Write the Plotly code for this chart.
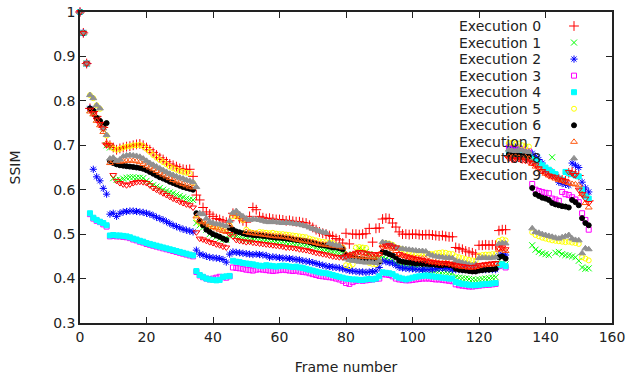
import plotly.graph_objects as go

# ---------------- data (SSIM per frame, frames 0..153) ----------------
exec0 = [1.0, 0.953, 0.884,
         0.783, 0.776, 0.765, 0.752, 0.74, 0.705,
         0.70, 0.695, 0.69, 0.693, 0.695, 0.697, 0.698, 0.70, 0.702, 0.703, 0.70, 0.695, 0.69, 0.684, 0.678, 0.672, 0.668, 0.663, 0.658, 0.655, 0.652, 0.648, 0.646, 0.645, 0.646, 0.63,
         0.588, 0.577, 0.56, 0.55, 0.545, 0.54, 0.535, 0.533, 0.53, 0.527, 0.53,
         0.547, 0.545, 0.535, 0.53, 0.527, 0.54, 0.56, 0.555, 0.54, 0.537, 0.535, 0.536, 0.534, 0.533, 0.533, 0.532, 0.53, 0.531, 0.529, 0.528, 0.528, 0.526, 0.525, 0.52, 0.515, 0.51, 0.505, 0.502, 0.5, 0.497, 0.495, 0.49, 0.487,
         0.48, 0.502, 0.478, 0.5, 0.5, 0.499, 0.5, 0.501, 0.513, 0.482, 0.513, 0.514, 0.534, 0.536, 0.535, 0.525, 0.516, 0.505, 0.5, 0.5, 0.499, 0.5, 0.5, 0.499, 0.498, 0.499,
         0.499, 0.498, 0.497, 0.496, 0.497, 0.495, 0.494, 0.494, 0.47, 0.468, 0.466, 0.462, 0.46, 0.458, 0.455, 0.475, 0.475, 0.476, 0.475, 0.476, 0.475, 0.508, 0.51, 0.51,
         0.675, 0.672, 0.674, 0.676, 0.673, 0.675, 0.672,
         0.668, 0.662, 0.655, 0.65, 0.645, 0.64, 0.637, 0.63, 0.625, 0.622, 0.62, 0.638, 0.64, 0.635, 0.632, 0.60, 0.59, 0.575]

exec1 = [1.0, 0.953, 0.884,
         0.78, 0.772, 0.76, 0.75, 0.735, 0.70,
         0.695, 0.626, 0.622, 0.622, 0.625, 0.627, 0.628, 0.628, 0.627, 0.627, 0.626, 0.62, 0.615, 0.61, 0.607, 0.604, 0.6, 0.597, 0.594, 0.592, 0.589, 0.586, 0.583, 0.58, 0.578, 0.577,
         0.525, 0.52, 0.515, 0.51, 0.5, 0.497, 0.494, 0.49, 0.488, 0.487, 0.5,
         0.497, 0.495, 0.492, 0.49, 0.488, 0.487, 0.489, 0.49, 0.489, 0.488, 0.487, 0.486, 0.485, 0.484, 0.484, 0.483, 0.482, 0.481, 0.48, 0.479, 0.478, 0.477, 0.476, 0.475, 0.473, 0.47, 0.468, 0.465, 0.464, 0.462, 0.46, 0.459, 0.457,
         0.457, 0.45, 0.448, 0.455, 0.462, 0.468, 0.465, 0.46, 0.455, 0.45, 0.448, 0.445, 0.446, 0.444, 0.442, 0.44, 0.435, 0.43, 0.428, 0.426, 0.425, 0.424, 0.423, 0.422, 0.421, 0.42,
         0.42, 0.419, 0.418, 0.417, 0.416, 0.415, 0.414, 0.413, 0.403, 0.402, 0.401, 0.4, 0.399, 0.398, 0.397, 0.398, 0.399, 0.4, 0.401, 0.402, 0.403, 0.433, 0.435, 0.432,
         0.682, 0.68, 0.679, 0.681, 0.678, 0.677, 0.676,
         0.475, 0.465, 0.46, 0.457, 0.455, 0.453, 0.673, 0.458, 0.46, 0.455, 0.453, 0.452, 0.45, 0.448, 0.44, 0.425, 0.422, 0.423]

exec2 = [1.0, 0.953, 0.884,
         0.783, 0.646, 0.629, 0.62, 0.603, 0.59,
         0.545, 0.547, 0.54, 0.547, 0.55, 0.551, 0.552, 0.552, 0.551, 0.55, 0.549, 0.547, 0.545, 0.542, 0.538, 0.535, 0.532, 0.528, 0.524, 0.52, 0.517, 0.514, 0.511, 0.509, 0.507, 0.505,
         0.464, 0.455, 0.453, 0.45, 0.448, 0.447, 0.446, 0.445, 0.443, 0.437, 0.455,
         0.46, 0.459, 0.458, 0.457, 0.456, 0.455, 0.454, 0.455, 0.454, 0.453, 0.452, 0.448, 0.449, 0.448, 0.447, 0.446, 0.446, 0.445, 0.444, 0.443, 0.442, 0.44, 0.439, 0.438, 0.436, 0.434, 0.432, 0.43, 0.428, 0.427, 0.426, 0.425, 0.424,
         0.422, 0.42, 0.418, 0.417, 0.416, 0.415, 0.415, 0.414, 0.415, 0.416, 0.417, 0.425, 0.44, 0.438, 0.436, 0.435, 0.43, 0.425, 0.424, 0.423, 0.422, 0.422, 0.421, 0.421, 0.42, 0.42,
         0.42, 0.421, 0.422, 0.423, 0.424, 0.423, 0.422, 0.42, 0.42, 0.42, 0.42, 0.421, 0.421, 0.422, 0.422, 0.421, 0.42, 0.42, 0.421, 0.42, 0.42, 0.452, 0.455, 0.453,
         0.698, 0.695, 0.696, 0.693, 0.69, 0.688, 0.685,
         0.682, 0.675, 0.668, 0.66, 0.645, 0.64, 0.636, 0.633, 0.617, 0.614, 0.612, 0.61, 0.66, 0.655, 0.65, 0.617, 0.604, 0.595]

exec3 = [1.0, 0.953, 0.884,
         0.545, 0.535, 0.53, 0.527, 0.522, 0.517,
         0.495, 0.496, 0.495, 0.495, 0.494, 0.493, 0.491, 0.488, 0.486, 0.483, 0.481, 0.478, 0.476, 0.474, 0.472, 0.47, 0.468, 0.466, 0.464, 0.462, 0.46, 0.458, 0.456, 0.454, 0.452, 0.45,
         0.415, 0.407, 0.403, 0.4, 0.398, 0.4, 0.402, 0.404, 0.403, 0.402, 0.405,
         0.425, 0.424, 0.423, 0.422, 0.42, 0.419, 0.418, 0.42, 0.421, 0.42, 0.419, 0.418, 0.417, 0.418, 0.419, 0.42, 0.419, 0.418, 0.417, 0.418, 0.416, 0.415, 0.414, 0.412, 0.41, 0.408, 0.406, 0.405, 0.404, 0.403, 0.402, 0.4, 0.398,
         0.395, 0.39, 0.388, 0.392, 0.395, 0.396, 0.395, 0.396, 0.397, 0.398, 0.399, 0.4, 0.41, 0.409, 0.408, 0.405, 0.4, 0.398, 0.397, 0.396, 0.396, 0.397, 0.398, 0.399, 0.4, 0.4,
         0.4, 0.399, 0.398, 0.398, 0.397, 0.396, 0.395, 0.394, 0.387, 0.385, 0.384, 0.383, 0.382, 0.382, 0.383, 0.384, 0.385, 0.386, 0.386, 0.387, 0.388, 0.428, 0.43, 0.425,
         0.695, 0.693, 0.692, 0.694, 0.69, 0.688, 0.687,
         0.613, 0.6, 0.597, 0.595, 0.593, 0.592, 0.58, 0.578, 0.575, 0.595, 0.59, 0.588, 0.583, 0.578, 0.572, 0.547, 0.532, 0.51]

exec4 = [1.0, 0.953, 0.884,
         0.547, 0.537, 0.532, 0.528, 0.525, 0.52,
         0.497, 0.498, 0.497, 0.497, 0.496, 0.495, 0.493, 0.49, 0.488, 0.485, 0.483, 0.48, 0.478, 0.476, 0.474, 0.472, 0.47, 0.468, 0.466, 0.464, 0.462, 0.46, 0.458, 0.456, 0.454, 0.452,
         0.417, 0.408, 0.404, 0.4, 0.398, 0.397, 0.396, 0.397, 0.404, 0.405, 0.406,
         0.44, 0.438, 0.437, 0.435, 0.434, 0.433, 0.432, 0.43, 0.429, 0.428, 0.43, 0.429, 0.428, 0.427, 0.428, 0.429, 0.428, 0.427, 0.426, 0.427, 0.425, 0.424, 0.422, 0.42, 0.418, 0.416, 0.414, 0.413, 0.412, 0.41, 0.408, 0.406, 0.404,
         0.402, 0.4, 0.399, 0.398, 0.398, 0.397, 0.397, 0.398, 0.399, 0.398, 0.4, 0.405, 0.414, 0.413, 0.412, 0.41, 0.405, 0.402, 0.4, 0.398, 0.4, 0.402, 0.404, 0.405, 0.406, 0.407,
         0.406, 0.405, 0.404, 0.403, 0.402, 0.401, 0.4, 0.4, 0.392, 0.39, 0.388, 0.387, 0.386, 0.385, 0.385, 0.386, 0.387, 0.388, 0.388, 0.389, 0.39, 0.43, 0.432, 0.428,
         0.685, 0.683, 0.682, 0.684, 0.681, 0.68, 0.678,
         0.67, 0.665, 0.66, 0.655, 0.65, 0.645, 0.64, 0.635, 0.625, 0.622, 0.64, 0.637, 0.635, 0.632, 0.63, 0.6, 0.585, 0.58]

exec5 = [1.0, 0.953, 0.884,
         0.813, 0.806, 0.79, 0.782, 0.738, 0.722,
         0.70, 0.693, 0.69, 0.692, 0.695, 0.697, 0.698, 0.70, 0.70, 0.701, 0.698, 0.692, 0.685, 0.678, 0.672, 0.667, 0.662, 0.657, 0.652, 0.648, 0.645, 0.642, 0.64, 0.638, 0.637, 0.615,
         0.535, 0.525, 0.522, 0.52, 0.518, 0.517, 0.516, 0.515, 0.513, 0.512, 0.52,
         0.54, 0.542, 0.538, 0.532, 0.51, 0.505, 0.503, 0.502, 0.505, 0.504, 0.503, 0.502, 0.503, 0.501, 0.5, 0.5, 0.499, 0.498, 0.497, 0.496, 0.495, 0.494, 0.493, 0.49, 0.488, 0.486, 0.484, 0.483, 0.482, 0.481, 0.48, 0.475, 0.472,
         0.47, 0.43, 0.428, 0.432, 0.47, 0.471, 0.47, 0.469, 0.435, 0.433, 0.432, 0.44, 0.478, 0.48, 0.479, 0.476, 0.47, 0.468, 0.466, 0.462, 0.46, 0.458, 0.457, 0.457, 0.456, 0.456,
         0.456, 0.455, 0.457, 0.458, 0.459, 0.458, 0.456, 0.455, 0.45, 0.448, 0.446, 0.444, 0.442, 0.441, 0.44, 0.452, 0.453, 0.454, 0.454, 0.455, 0.455, 0.485, 0.488, 0.486,
         0.705, 0.706, 0.703, 0.704, 0.70, 0.698, 0.697,
         0.504, 0.498, 0.495, 0.492, 0.49, 0.488, 0.486, 0.485, 0.484, 0.483, 0.482, 0.483, 0.481, 0.48, 0.478, 0.448, 0.445, 0.441]

exec6 = [1.0, 0.953, 0.884,
         0.783, 0.778, 0.762, 0.755, 0.745, 0.75,
         0.665, 0.66, 0.657, 0.655, 0.654, 0.653, 0.652, 0.651, 0.65, 0.649, 0.647, 0.644, 0.64, 0.636, 0.632, 0.628, 0.625, 0.622, 0.618, 0.615, 0.612, 0.609, 0.606, 0.604, 0.602, 0.60,
         0.547, 0.53, 0.52, 0.51, 0.505, 0.5, 0.497, 0.494, 0.49, 0.487, 0.514,
         0.51, 0.506, 0.504, 0.502, 0.5, 0.499, 0.498, 0.497, 0.497, 0.496, 0.495, 0.494, 0.493, 0.492, 0.492, 0.491, 0.49, 0.489, 0.488, 0.487, 0.486, 0.485, 0.484, 0.482, 0.48, 0.478, 0.476, 0.475, 0.474, 0.472, 0.47, 0.47, 0.468,
         0.466, 0.453, 0.448, 0.446, 0.445, 0.444, 0.443, 0.442, 0.441, 0.44, 0.439, 0.438, 0.46, 0.458, 0.455, 0.452, 0.448, 0.44, 0.438, 0.437, 0.436, 0.435, 0.434, 0.434, 0.433, 0.433,
         0.432, 0.432, 0.431, 0.43, 0.43, 0.431, 0.43, 0.429, 0.422, 0.42, 0.419, 0.418, 0.417, 0.416, 0.416, 0.418, 0.419, 0.42, 0.42, 0.421, 0.422, 0.448, 0.45, 0.445,
         0.68, 0.678, 0.679, 0.677, 0.676, 0.678, 0.675,
         0.604, 0.59, 0.586, 0.582, 0.58, 0.577, 0.57, 0.567, 0.565, 0.563, 0.562, 0.56, 0.577, 0.572, 0.565, 0.536, 0.525, 0.52]

exec7 = [1.0, 0.953, 0.884,
         0.776, 0.77, 0.755, 0.745, 0.73, 0.705,
         0.66, 0.665, 0.664, 0.663, 0.664, 0.665, 0.666, 0.665, 0.664, 0.662, 0.658, 0.654, 0.65, 0.646, 0.642, 0.638, 0.634, 0.63, 0.626, 0.622, 0.619, 0.616, 0.613, 0.61, 0.607, 0.605,
         0.54, 0.53, 0.527, 0.524, 0.52, 0.516, 0.513, 0.51, 0.507, 0.505, 0.52,
         0.545, 0.547, 0.54, 0.535, 0.505, 0.503, 0.502, 0.501, 0.5, 0.499, 0.498, 0.497, 0.496, 0.495, 0.495, 0.494, 0.493, 0.492, 0.49, 0.488, 0.487, 0.485, 0.484, 0.483, 0.482, 0.48, 0.478, 0.477, 0.476, 0.475, 0.474, 0.473, 0.472,
         0.47, 0.455, 0.452, 0.451, 0.45, 0.45, 0.449, 0.449, 0.448, 0.448, 0.447, 0.455, 0.475, 0.472, 0.47, 0.467, 0.462, 0.455, 0.452, 0.45, 0.448, 0.447, 0.446, 0.445, 0.445, 0.444,
         0.44, 0.438, 0.437, 0.436, 0.435, 0.435, 0.434, 0.433, 0.43, 0.428, 0.427, 0.426, 0.425, 0.425, 0.426, 0.428, 0.43, 0.431, 0.432, 0.432, 0.433, 0.465, 0.467, 0.462,
         0.675, 0.673, 0.674, 0.672, 0.671, 0.673, 0.67,
         0.658, 0.652, 0.647, 0.64, 0.636, 0.632, 0.628, 0.625, 0.622, 0.62, 0.617, 0.615, 0.613, 0.612, 0.61, 0.59, 0.57, 0.56]

exec8 = [1.0, 0.953, 0.884,
         0.813, 0.806, 0.79, 0.783, 0.738, 0.723,
         0.67, 0.672, 0.665, 0.668, 0.675, 0.677, 0.678, 0.677, 0.676, 0.674, 0.67, 0.665, 0.66, 0.656, 0.652, 0.648, 0.644, 0.64, 0.636, 0.633, 0.63, 0.627, 0.625, 0.622, 0.62, 0.617,
         0.606, 0.547, 0.545, 0.535, 0.528, 0.525, 0.523, 0.522, 0.52, 0.518, 0.53,
         0.548, 0.552, 0.545, 0.54, 0.535, 0.532, 0.534, 0.533, 0.532, 0.53, 0.528, 0.527, 0.528, 0.527, 0.526, 0.525, 0.526, 0.525, 0.524, 0.523, 0.522, 0.52, 0.518, 0.515, 0.512, 0.51, 0.507, 0.505, 0.503, 0.48, 0.477, 0.475, 0.474,
         0.45, 0.445, 0.442, 0.44, 0.44, 0.438, 0.437, 0.436, 0.437, 0.436, 0.435, 0.44, 0.482, 0.48, 0.478, 0.475, 0.47, 0.468, 0.467, 0.466, 0.465, 0.464, 0.463, 0.462, 0.462, 0.461,
         0.455, 0.452, 0.45, 0.449, 0.448, 0.447, 0.447, 0.446, 0.44, 0.438, 0.436, 0.434, 0.432, 0.43, 0.432, 0.446, 0.447, 0.447, 0.446, 0.447, 0.448, 0.478, 0.48, 0.479,
         0.69, 0.688, 0.687, 0.69, 0.688, 0.686, 0.685,
         0.513, 0.505, 0.503, 0.5, 0.498, 0.496, 0.494, 0.492, 0.49, 0.493, 0.495, 0.498, 0.49, 0.487, 0.486, 0.457, 0.468, 0.466]

exec9 = [1.0, 0.953, 0.884,
         0.78, 0.772, 0.758, 0.748, 0.738, 0.70,
         0.70, 0.633, 0.62, 0.615, 0.612, 0.61, 0.612, 0.615, 0.617, 0.618, 0.617, 0.615, 0.61, 0.604, 0.6, 0.596, 0.592, 0.588, 0.584, 0.58, 0.577, 0.573, 0.57, 0.567, 0.565, 0.56,
         0.504, 0.49, 0.488, 0.485, 0.482, 0.48, 0.477, 0.475, 0.472, 0.47, 0.5,
         0.495, 0.487, 0.485, 0.484, 0.482, 0.483, 0.481, 0.48, 0.479, 0.478, 0.477, 0.476, 0.475, 0.474, 0.473, 0.472, 0.47, 0.47, 0.469, 0.468, 0.466, 0.465, 0.464, 0.462, 0.46, 0.458, 0.457, 0.455, 0.454, 0.452, 0.45, 0.449, 0.448,
         0.448, 0.45, 0.452, 0.455, 0.458, 0.46, 0.459, 0.457, 0.456, 0.455, 0.454, 0.455, 0.47, 0.474, 0.475, 0.472, 0.47, 0.455, 0.452, 0.45, 0.448, 0.446, 0.444, 0.443, 0.442, 0.44,
         0.438, 0.437, 0.436, 0.435, 0.434, 0.435, 0.433, 0.432, 0.43, 0.429, 0.428, 0.427, 0.426, 0.426, 0.427, 0.43, 0.431, 0.432, 0.433, 0.434, 0.435, 0.468, 0.47, 0.466,
         0.67, 0.668, 0.667, 0.669, 0.666, 0.665, 0.663,
         0.66, 0.655, 0.648, 0.642, 0.637, 0.632, 0.63, 0.628, 0.625, 0.622, 0.62, 0.64, 0.637, 0.633, 0.6, 0.59, 0.58, 0.57]

series_names = ["Execution 0", "Execution 1", "Execution 2", "Execution 3", "Execution 4",
                "Execution 5", "Execution 6", "Execution 7", "Execution 8", "Execution 9"]
series_values = [exec0, exec1, exec2, exec3, exec4, exec5, exec6, exec7, exec8, exec9]

# ---------------- styles ----------------
colors = ["#ff0000", "#00ff00", "#0000ff", "#ff00ff", "#00ffff",
          "#ffff00", "#000000", "#ff5a14", "#909090", "#ff0000"]
symbols = ["cross-thin", "x-thin", "asterisk-open", "square-open", "square",
           "circle-open", "circle", "triangle-up-open", "triangle-up", "triangle-down-open"]
sizes = [7, 6, 6, 5, 5, 5, 5, 6, 6, 6]

FONT = "DejaVu Sans"
W, H = 628, 376
ML, MR, MT, MB = 80, 16, 12, 53
PW, PH = W - ML - MR, H - MT - MB

fig = go.Figure()
for name, vals, col, sym, sz in zip(series_names, series_values, colors, symbols, sizes):
    fig.add_trace(go.Scatter(
        x=list(range(len(vals))), y=vals, mode="markers", name=name,
        marker=dict(symbol=sym, size=sz, color=col, line=dict(color=col, width=1)),
        cliponaxis=False, showlegend=False, xaxis="x", yaxis="y"))

# gnuplot-style key: right aligned text, sample to the right
key_text_x = (543 - ML) / PW
key_mark_x = (574 - ML) / PW
for i, (name, col, sym, sz) in enumerate(zip(series_names, colors, symbols, sizes)):
    ypix = 26 + 16.55 * i
    yp = (MT + PH - ypix) / PH
    fig.add_annotation(x=key_text_x, y=yp, xref="paper", yref="paper",
                       text=name, showarrow=False, xanchor="right", yanchor="middle",
                       font=dict(family=FONT, size=14, color="#222"))
    fig.add_trace(go.Scatter(
        x=[key_mark_x], y=[yp], mode="markers", xaxis="x2", yaxis="y2",
        marker=dict(symbol=sym, size=sz, color=col, line=dict(color=col, width=1)),
        showlegend=False, hoverinfo="skip"))

axis_common = dict(ticks="inside", ticklen=6, tickwidth=1, tickcolor="#222",
                   showline=True, linecolor="#222", linewidth=1.5, mirror="allticks",
                   showgrid=False, zeroline=False, automargin=False,
                   tickfont=dict(family=FONT, size=14, color="#222"))

fig.update_layout(
    width=W, height=H,
    margin=dict(l=ML, r=MR, t=MT, b=MB, autoexpand=False),
    paper_bgcolor="white", plot_bgcolor="white",
    font=dict(family=FONT, size=14, color="#222"),
    xaxis=dict(range=[0, 160], dtick=20, tick0=0,
               title=dict(text="Frame number", font=dict(family=FONT, size=14), standoff=19),
               **axis_common),
    yaxis=dict(range=[0.3, 1.0], dtick=0.1, tick0=0.3,
               title=dict(text="SSIM", font=dict(family=FONT, size=14), standoff=29),
               **axis_common),
    xaxis2=dict(range=[0, 1], overlaying="x", visible=False),
    yaxis2=dict(range=[0, 1], overlaying="y", visible=False),
    showlegend=False,
)

fig.write_html("out.html", config={"displayModeBar": False},
               post_script="document.body.style.margin='0';")
